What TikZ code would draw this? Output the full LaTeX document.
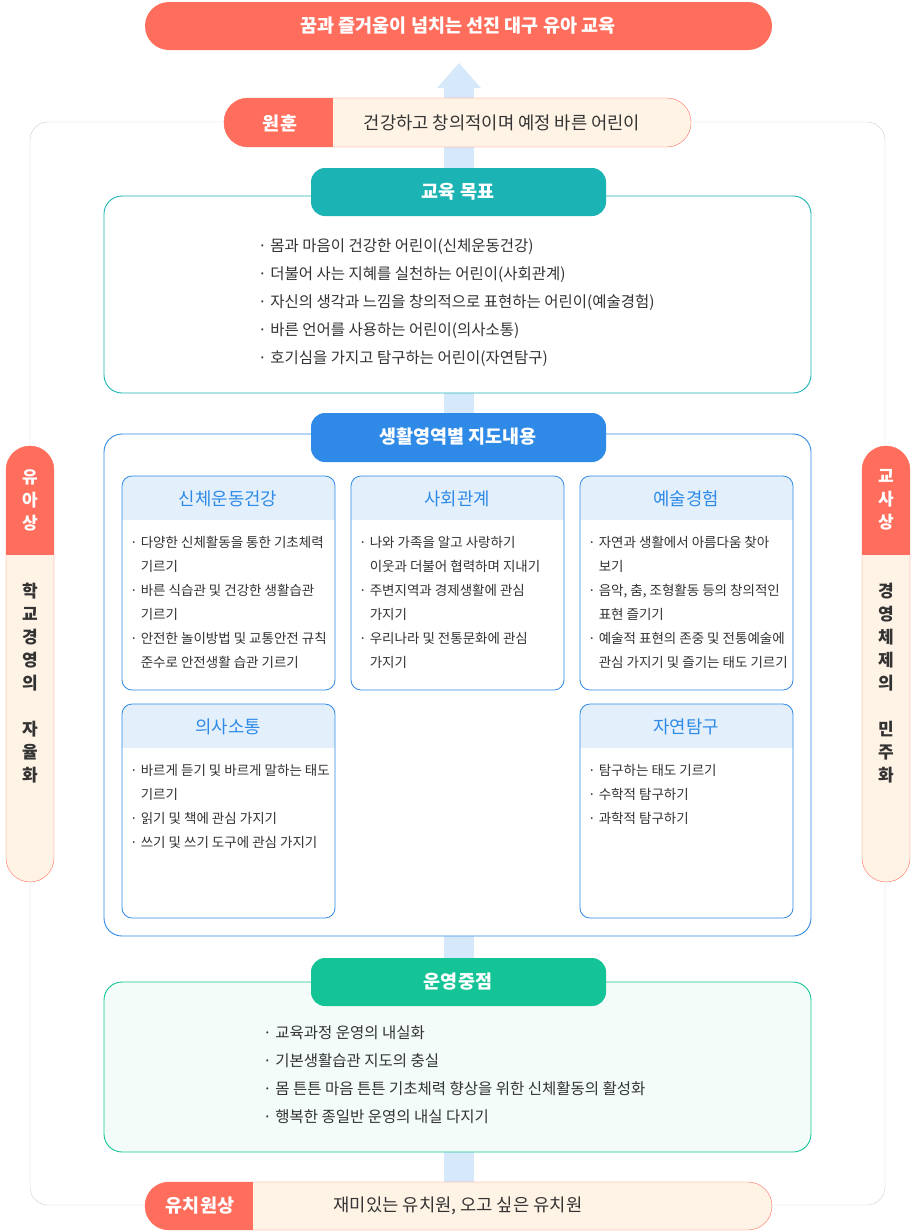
\documentclass[tikz,border=0pt]{standalone}
\usepackage{fontspec}
\setmainfont{Noto Sans CJK KR}
\definecolor{salmon}{HTML}{FF6E5C}
\definecolor{cream}{HTML}{FFF3E6}
\definecolor{teal}{HTML}{1BB3B3}
\definecolor{skyblue}{HTML}{2E8AE6}
\definecolor{mint}{HTML}{14C496}
\definecolor{mintbg}{HTML}{F3FCF9}
\definecolor{arrowblue}{HTML}{D6E9FB}
\definecolor{headblue}{HTML}{E3F0FC}
\definecolor{txt}{HTML}{333333}
\tikzset{
  pilltext/.style={text=white,font=\fontsize{18.5}{20}\selectfont\bfseries},
  bullets/.style={anchor=north west,align=left,text=txt,inner sep=0pt,font=\fontsize{15.5}{28}\selectfont},
  small/.style={anchor=north west,align=left,text=txt,inner sep=0pt,font=\fontsize{13.5}{24}\selectfont},
  subhead/.style={text=skyblue,font=\fontsize{17.8}{20}\selectfont},
  vert/.style={align=center,inner sep=0pt,font=\fontsize{17}{23}\selectfont\bfseries},
  frame/.style={line width=0.9pt,rounded corners=18},
}
\newcommand{\ind}{\phantom{· }}
\begin{document}
\begin{tikzpicture}[x=1pt,y=-1pt]
\useasboundingbox (0,0) rectangle (915,1232);
% arrow
\fill[arrowblue] (444,1185) rectangle (474,88);
\fill[arrowblue] (437,88) -- (459,63) -- (481,88) -- cycle;
\draw[gray!40,rounded corners=18] (30,122) rectangle (885,1205);
% top banner
\fill[salmon,rounded corners=24] (145,2) rectangle (772,50);
\node[pilltext] (vision) at (458,26) {꿈과 즐거움이 넘치는 선진 대구 유아 교육};
% motto
\begin{scope}
  \clip[rounded corners=24] (224,98) rectangle (691,147);
  \fill[cream] (224,98) rectangle (691,147);
  \fill[salmon] (224,98) rectangle (333,147);
\end{scope}
\draw[salmon,rounded corners=24] (224,98) rectangle (691,147);
\node[pilltext] (motto) at (280,123) {원훈};
\node[text=txt,font=\fontsize{17.7}{20}\selectfont] (mottotext) at (502,123) {건강하고 창의적이며 예정 바른 어린이};
% goals
\draw[frame,teal,fill=white] (104,196) rectangle (811,393);
\fill[teal,rounded corners=14] (311,168) rectangle (606,216);
\node[pilltext] (goals) at (458,192) {교육 목표};
\node[bullets] (goallist) at (258,238) {· 몸과 마음이 건강한 어린이(신체운동건강)\\
· 더불어 사는 지혜를 실천하는 어린이(사회관계)\\
· 자신의 생각과 느낌을 창의적으로 표현하는 어린이(예술경험)\\
· 바른 언어를 사용하는 어린이(의사소통)\\
· 호기심을 가지고 탐구하는 어린이(자연탐구)};
% contents
\draw[frame,skyblue,fill=white] (104,434) rectangle (811,936);
\fill[skyblue,rounded corners=14] (311,413) rectangle (606,462);
\node[pilltext] (contents) at (458,437) {생활영역별 지도내용};
\foreach \x/\y/\t in {122/476/신체운동건강,351/476/사회관계,580/476/예술경험,122/704/의사소통,580/704/자연탐구}{
  \begin{scope}
    \clip[rounded corners=10] (\x,\y) rectangle (\x+213,\y+214);
    \fill[headblue] (\x,\y) rectangle (\x+213,\y+44);
  \end{scope}
  \draw[skyblue,line width=0.8pt,rounded corners=10] (\x,\y) rectangle (\x+213,\y+214);
  \node[subhead] at (\x+106,\y+23) {\t};
}
\node[small] (body) at (130,536) {· 다양한 신체활동을 통한 기초체력\\ \ind 기르기\\
· 바른 식습관 및 건강한 생활습관\\ \ind 기르기\\
· 안전한 놀이방법 및 교통안전 규칙\\ \ind 준수로 안전생활 습관 기르기};
\node[small] (social) at (359,536) {· 나와 가족을 알고 사랑하기\\ \ind 이웃과 더불어 협력하며 지내기\\
· 주변지역과 경제생활에 관심\\ \ind 가지기\\
· 우리나라 및 전통문화에 관심\\ \ind 가지기};
\node[small] (art) at (588,536) {· 자연과 생활에서 아름다움 찾아\\ \ind 보기\\
· 음악, 춤, 조형활동 등의 창의적인\\ \ind 표현 즐기기\\
· 예술적 표현의 존중 및 전통예술에\\ \ind 관심 가지기 및 즐기는 태도 기르기};
\node[small] (talk) at (130,764) {· 바르게 듣기 및 바르게 말하는 태도\\ \ind 기르기\\
· 읽기 및 책에 관심 가지기\\
· 쓰기 및 쓰기 도구에 관심 가지기};
\node[small] (nature) at (588,764) {· 탐구하는 태도 기르기\\
· 수학적 탐구하기\\
· 과학적 탐구하기};
% management
\draw[frame,mint,fill=mintbg] (104,982) rectangle (811,1152);
\fill[mint,rounded corners=14] (311,958) rectangle (606,1006);
\node[pilltext] (manage) at (458,982) {운영중점};
\node[bullets] (managelist) at (263,1025) {· 교육과정 운영의 내실화\\
· 기본생활습관 지도의 충실\\
· 몸 튼튼 마음 튼튼 기초체력 향상을 위한 신체활동의 활성화\\
· 행복한 종일반 운영의 내실 다지기};
% bottom
\begin{scope}
  \clip[rounded corners=24] (145,1182) rectangle (772,1230);
  \fill[cream] (145,1182) rectangle (772,1230);
  \fill[salmon] (145,1182) rectangle (253,1230);
\end{scope}
\draw[salmon,rounded corners=24] (145,1182) rectangle (772,1230);
\node[pilltext] (kinder) at (200,1206) {유치원상};
\node[text=txt,font=\fontsize{17.7}{20}\selectfont] (kindertext) at (458,1206) {재미있는 유치원, 오고 싶은 유치원};
% side pills
\foreach \x/\a/\b/\c/\d in {6/유/아/상/{학\\교\\경\\영\\의\\ \\자\\율\\화},862/교/사/상/{경\\영\\체\\제\\의\\ \\민\\주\\화}}{
  \begin{scope}
    \clip[rounded corners=24] (\x,446) rectangle (\x+48,882);
    \fill[cream] (\x,446) rectangle (\x+48,882);
    \fill[salmon] (\x,446) rectangle (\x+48,555);
  \end{scope}
  \draw[salmon,rounded corners=24] (\x,446) rectangle (\x+48,882);
  \node[vert,text=white] at (\x+24,500) {\a\\\b\\\c};
  \node[vert,text=txt] at (\x+24,683) {\d};
}
\end{tikzpicture}
\end{document}
